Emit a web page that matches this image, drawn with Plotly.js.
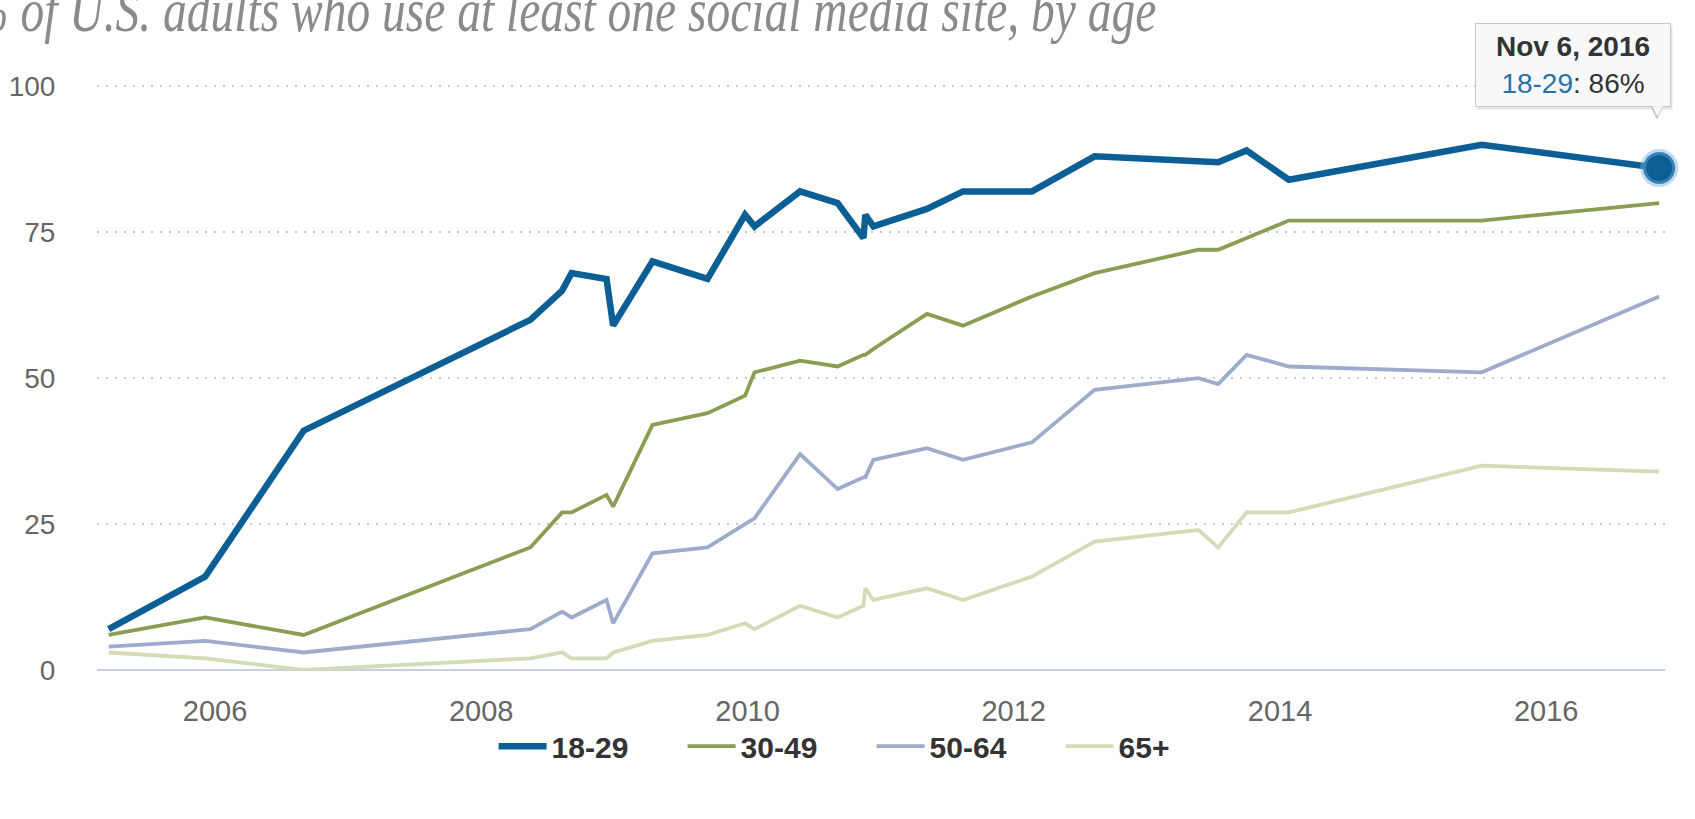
<!DOCTYPE html>
<html>
<head>
<meta charset="utf-8">
<script src="https://cdn.plot.ly/plotly-3.0.1.min.js"></script>
<style>
  html, body { margin: 0; padding: 0; background: #ffffff; overflow: hidden; }
  #chart { width: 1695px; height: 819px; }
</style>
</head>
<body>
<div id="chart"></div>
<script>
// ---- Data ----
const titleText = '% of U.S. adults who use at least one social media site, by age';
const surveyDates = ['2005-03-15','2005-12-05','2006-09-01','2008-05-15','2008-08-10','2008-09-05',
  '2008-12-10','2008-12-28','2009-04-15','2009-09-13','2009-12-25','2010-01-20','2010-05-25',
  '2010-09-05','2010-11-15','2010-11-20','2010-12-12','2011-05-08','2011-08-15','2012-02-20',
  '2012-08-10','2013-05-22','2013-07-15','2013-10-01','2014-01-25','2015-07-08','2016-11-06'];
const age18to29 = [7,16,41,60,65,68,67,59,70,67,78,76,82,80,74,78,76,79,82,82,88,87,87,89,84,90,86];
const age30to49 = [6,9,6,21,27,27,30,28,42,44,47,51,53,52,54,54,55,61,59,64,68,72,72,74,77,77,80];
const age50to64 = [4,5,3,7,10,9,12,8,20,21,25,26,37,31,33,33,36,38,36,39,48,50,49,54,52,51,64];
const age65plus = [3,2,0,2,3,2,2,3,5,6,8,7,11,9,11,14,12,14,12,16,22,24,21,27,27,35,34];
const seriesNames = ['18-29','30-49','50-64','65+'];
const yTickVals = [0,25,50,75,100];

// ---- Styles ----
const seriesValues = [age18to29, age30to49, age50to64, age65plus];
const seriesColors = ['#0c5f95','#8b9d52','#9eabcb','#d3dcb7'];
const seriesWidths = [6.5, 3.8, 3.8, 3.8];
const monthNames = ['Jan','Feb','Mar','Apr','May','Jun','Jul','Aug','Sep','Oct','Nov','Dec'];

const traces = [];
for (let i = seriesNames.length - 1; i >= 0; i--) {
  traces.push({
    type: 'scatter', mode: 'lines', name: seriesNames[i],
    x: surveyDates, y: seriesValues[i],
    line: { color: seriesColors[i], width: seriesWidths[i], shape: 'linear' },
    hoverinfo: 'skip'
  });
}
const lastIdx = surveyDates.length - 1;
traces.push({
  type: 'scatter', mode: 'markers', showlegend: false, hoverinfo: 'skip', cliponaxis: false,
  x: [surveyDates[lastIdx]], y: [age18to29[lastIdx]],
  marker: { size: 32, color: seriesColors[0], line: { color: 'rgba(110,175,220,0.45)', width: 6 } }
});

const parts = surveyDates[lastIdx].split('-');
const lastLabel = monthNames[parseInt(parts[1],10)-1] + ' ' + parseInt(parts[2],10) + ', ' + parts[0];
const tipText = '<b>' + lastLabel + '</b><br><span style="color:#2a72a6">' + seriesNames[0] +
  '</span>: ' + age18to29[lastIdx] + '%';

const tipCommon = {
  xref: 'x', yref: 'y', x: surveyDates[lastIdx], y: age18to29[lastIdx],
  showarrow: false, xanchor: 'center', yanchor: 'middle',
  width: 188, height: 76, borderpad: 3, align: 'center'
};

const layout = {
  width: 1695, height: 819,
  margin: { l: 97, r: 30, t: 84, b: 149 },
  paper_bgcolor: '#ffffff', plot_bgcolor: '#ffffff',
  font: { family: 'Liberation Sans, Arial, sans-serif', color: '#666666' },
  showlegend: true,
  hovermode: false,
  xaxis: {
    type: 'date',
    range: ['2005-02-11', '2016-11-22'],
    tick0: '2006-01-01', dtick: 'M24', tickformat: '%Y',
    showgrid: false, zeroline: false, showline: false,
    ticks: 'outside', ticklen: 15, tickcolor: 'rgba(0,0,0,0)',
    tickfont: { size: 29, color: '#666666' }
  },
  yaxis: {
    range: [0, 100.4], tickvals: yTickVals, ticktext: yTickVals.map(String),
    showgrid: true, gridcolor: '#c9c9c9', gridwidth: 2, griddash: '2px,7px',
    zeroline: true, zerolinecolor: '#c8d0df', zerolinewidth: 2.5,
    showline: false,
    ticks: 'outside', ticklen: 35, tickcolor: 'rgba(0,0,0,0)',
    tickfont: { size: 28, color: '#666666' }
  },
  legend: {
    orientation: 'h', traceorder: 'reversed',
    x: 0.494, xanchor: 'center', xref: 'paper',
    y: -0.13, yanchor: 'middle', yref: 'paper',
    entrywidth: 126, entrywidthmode: 'pixels', itemwidth: 48,
    font: { size: 30, color: '#333333', weight: 'bold' },
    bgcolor: 'rgba(0,0,0,0)'
  },
  annotations: [
    {
      text: titleText, xref: 'paper', yref: 'paper', x: -0.083, y: 1.118,
      xanchor: 'left', yanchor: 'middle', showarrow: false,
      font: { family: 'Liberation Serif, Times New Roman, serif', style: 'italic', size: 47.5, color: '#8a8a8a' }
    },
    Object.assign({}, tipCommon, {
      text: tipText, xshift: -84, yshift: 100,
      bgcolor: 'rgba(0,0,0,0.10)', bordercolor: 'rgba(0,0,0,0)', borderwidth: 1,
      font: { size: 28, color: 'rgba(0,0,0,0)' }
    }),
    Object.assign({}, tipCommon, {
      text: '▼', xshift: -2, yshift: 56, width: null, height: null, borderpad: 0,
      font: { size: 20, color: '#c4c4c4' }
    }),
    Object.assign({}, tipCommon, {
      text: tipText, xshift: -86, yshift: 103,
      bgcolor: '#f8f8f8', bordercolor: '#c8c8c8', borderwidth: 1,
      font: { size: 28, color: '#333333' }
    }),
    Object.assign({}, tipCommon, {
      text: '▼', xshift: -2, yshift: 58, width: null, height: null, borderpad: 0,
      font: { size: 17, color: '#f8f8f8' }
    })
  ]
};

Plotly.newPlot('chart', traces, layout, { displayModeBar: false, staticPlot: true }).then(function () {
  const ann = document.querySelectorAll('#chart .annotation')[0];
  if (ann) {
    const t = ann.querySelector('text.annotation-text');
    if (t) {
      t.style.transformBox = 'fill-box';
      t.style.transformOrigin = '0 80%';
      t.style.transform = 'scaleY(1.3)';
    }
  }
});
</script>
</body>
</html>
